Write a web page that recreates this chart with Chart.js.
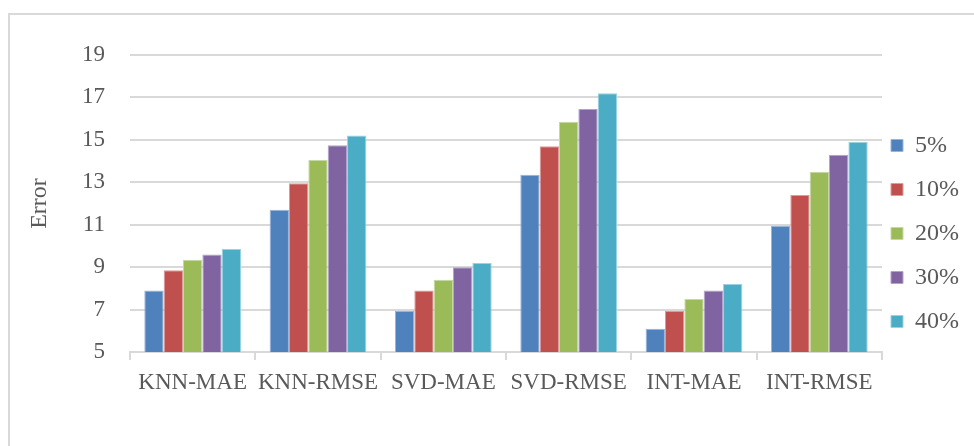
<!DOCTYPE html>
<html>
<head>
    <script src="https://cdn.jsdelivr.net/npm/chart.js@4.4.1/dist/chart.umd.min.js"></script>
    <style>
        body { margin: 0; background: white; overflow: hidden; }
        #frame {
            position: absolute;
            left: 8px;
            top: 13px;
            width: 1000px;
            height: 500px;
            border: 2px solid #d9d9d9;
        }
        canvas#errorChart { position: absolute; left: 0; top: 0; }
    </style>
</head>
<body>
    <div id="frame"></div>
    <canvas id="errorChart" width="974" height="446"></canvas>

    <script>
        // data
        const categories = ['KNN-MAE', 'KNN-RMSE', 'SVD-MAE', 'SVD-RMSE', 'INT-MAE', 'INT-RMSE'];
        const seriesNames = ['5%', '10%', '20%', '30%', '40%'];
        const err5 = [7.9, 11.7, 6.95, 13.35, 6.1, 10.95];
        const err10 = [8.85, 12.95, 7.9, 14.7, 6.95, 12.4];
        const err20 = [9.35, 14.05, 8.4, 15.85, 7.5, 13.5];
        const err30 = [9.6, 14.75, 9.0, 16.45, 7.9, 14.3];
        const err40 = [9.85, 15.2, 9.2, 17.2, 8.2, 14.9];
        const yTicks = [5, 7, 9, 11, 13, 15, 17, 19];

        const colors = ['#4f81bd', '#c0504d', '#9bbb59', '#8064a2', '#4bacc6'];
        // lighter edge colour of each bar, like the office style
        const edgeColors = ['#98b4d8', '#dc9c9a', '#c6d8a4', '#b4a3c9', '#99d2e1'];
        const allSeries = [err5, err10, err20, err30, err40];
        const textColor = '#595959';
        const gridColor = '#d9d9d9';
        const fontFamily = "'Liberation Serif', 'Times New Roman', serif";

        // move the legend a little left, over the plot edge like the original
        const legendNudge = {
            id: 'legendNudge',
            afterLayout: function(chart) {
                var dx = 871 - chart.legend.left;
                chart.legend.left += dx;
                chart.legend.right += dx;
            }
        };

        var ctx = document.getElementById('errorChart').getContext('2d');
        var chart = new Chart(ctx, {
            type: 'bar',
            data: {
                labels: categories,
                datasets: allSeries.map(function(values, i) {
                    return {
                        label: seriesNames[i],
                        data: values,
                        backgroundColor: colors[i],
                        borderColor: edgeColors[i],
                        borderWidth: 1,
                        categoryPercentage: 0.772,
                        barPercentage: 1.0
                    };
                })
            },
            options: {
                responsive: false,
                devicePixelRatio: 1,
                animation: false,
                layout: {
                    padding: { top: 55, bottom: 34, left: 0, right: 0 }
                },
                plugins: {
                    tooltip: { enabled: false },
                    legend: {
                        position: 'right',
                        maxWidth: 92,
                        labels: {
                            boxWidth: 12,
                            boxHeight: 12,
                            padding: 20,
                            color: textColor,
                            font: { family: fontFamily, size: 24 }
                        }
                    }
                },
                scales: {
                    x: {
                        afterFit: function(scale) { scale.height = 60; },
                        grid: {
                            offset: true,
                            drawOnChartArea: false,
                            drawTicks: true,
                            tickLength: 8,
                            color: gridColor,
                            lineWidth: 2
                        },
                        border: { display: true, color: gridColor, width: 2 },
                        ticks: {
                            color: textColor,
                            padding: 9,
                            maxRotation: 0,
                            autoSkip: false,
                            font: { family: fontFamily, size: 23 }
                        }
                    },
                    y: {
                        min: 5,
                        max: 19,
                        afterFit: function(scale) { scale.width = 130; },
                        afterBuildTicks: function(scale) {
                            scale.ticks = yTicks.map(function(v) { return { value: v }; });
                        },
                        grid: {
                            drawTicks: false,
                            color: gridColor,
                            lineWidth: 2
                        },
                        border: { display: false },
                        ticks: {
                            color: textColor,
                            padding: 25,
                            font: { family: fontFamily, size: 23 }
                        },
                        title: {
                            display: true,
                            text: 'Error',
                            color: textColor,
                            padding: { top: 25, bottom: 0 },
                            font: { family: fontFamily, size: 24 }
                        }
                    }
                }
            },
            plugins: [legendNudge]
        });
    </script>
</body>
</html>
